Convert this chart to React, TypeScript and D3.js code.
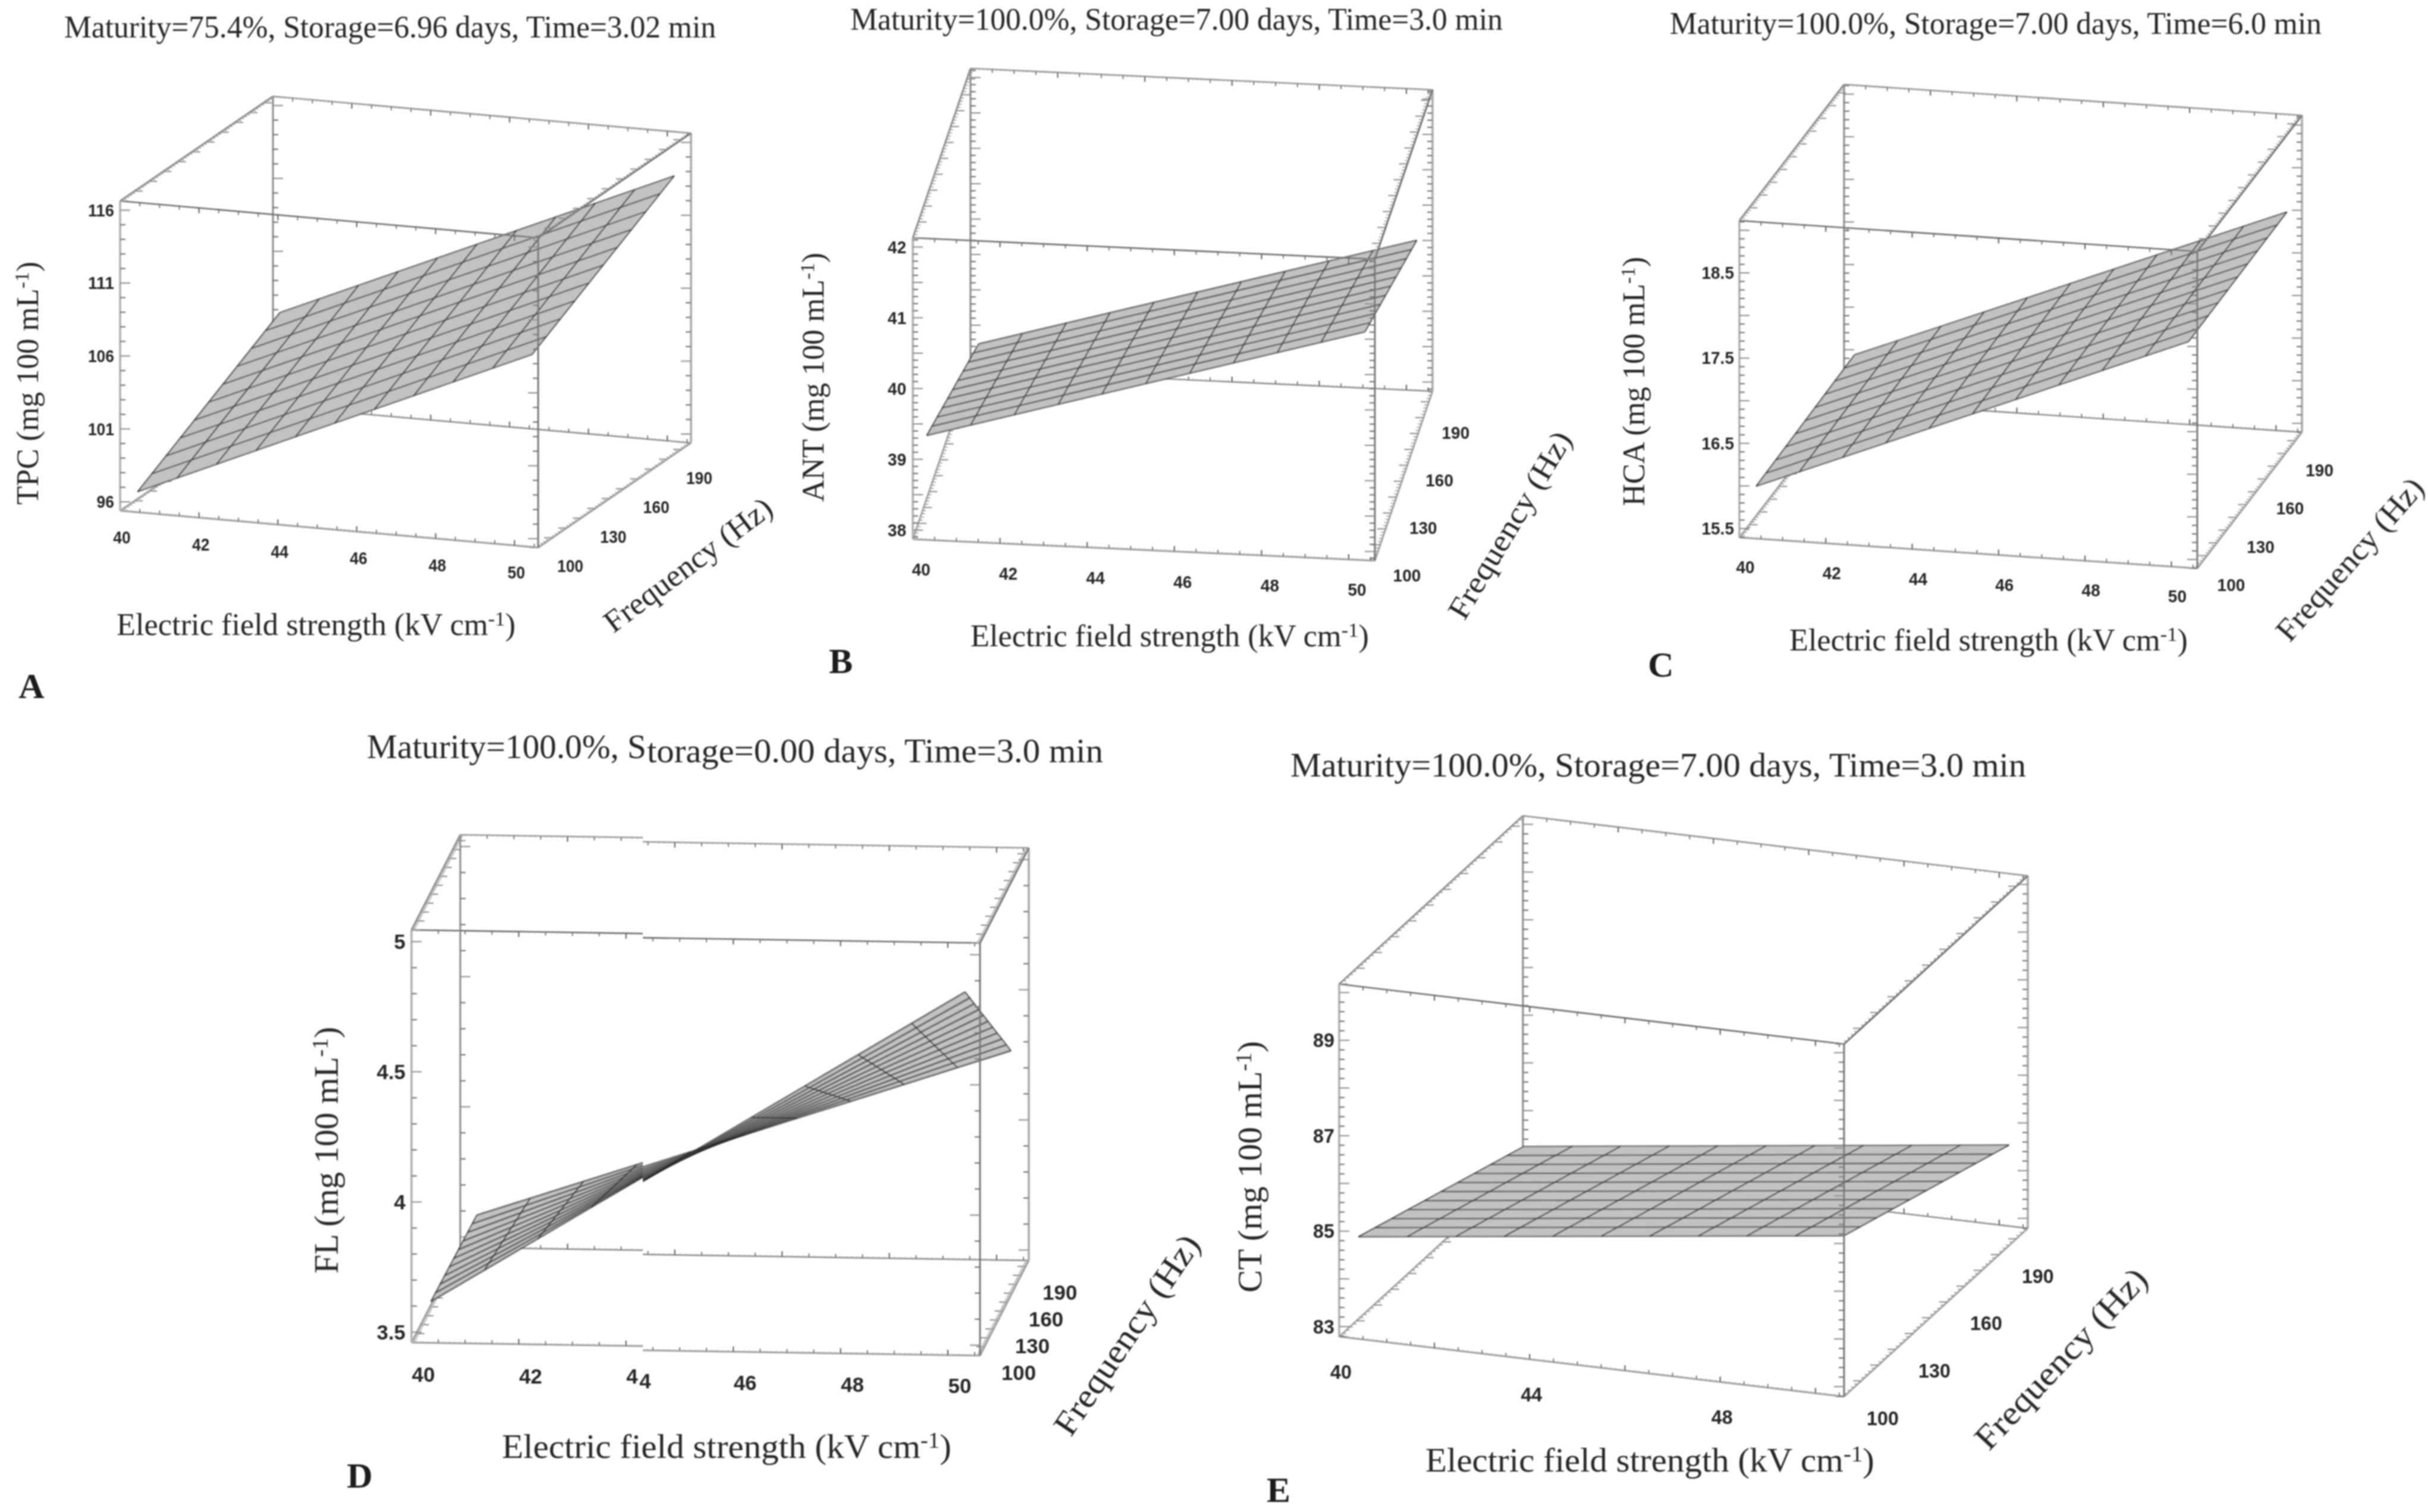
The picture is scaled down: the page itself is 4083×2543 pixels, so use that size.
import React from "react";
import * as d3 from "d3";

// ---------- values ----------
const electricTicks = [40, 42, 44, 46, 48, 50];
const electricTicksD = [40, 42, 46, 48, 50];
const electricTicksE = [40, 44, 48];
const frequencyTicks = [100, 130, 160, 190];

const tpcTicks = [96, 101, 106, 111, 116];
const antTicks = [38, 39, 40, 41, 42];
const hcaTicks = [15.5, 16.5, 17.5, 18.5];
const flTicks = [3.5, 4, 4.5, 5];
const ctTicks = [83, 85, 87, 89];

const tpcDomain = [95.39, 116.63];
const antDomain = [37.87, 42.13];
const hcaDomain = [15.395, 19.114];
const flDomain = [3.46, 5.045];
const ctDomain = [82.79, 90.18];

// surface extents [low, high] and heights [[lowF lowE, lowF highE], [highF lowE, highF highE]]
const tpcSurfaceE = [40.6, 50.6];
const tpcSurfaceF = [95.7, 194.9];
const tpcSurfaceZ = [[97.13, 108.92], [102.73, 114.49]];
const antSurfaceE = [40.36, 50.41];
const antSurfaceF = [96.8, 192.7];
const antSurfaceZ = [[39.42, 41.17], [38.56, 40.31]];
const hcaSurfaceE = [40.46, 50.47];
const hcaSurfaceF = [96.8, 197];
const hcaSurfaceZ = [[16.06, 18.1], [16.1, 18.12]];
const flSurfaceE = [40.39, 50.35];
const flSurfaceF = [96.8, 197];
const flSurfaceZ = [[3.63, 4.867], [3.618, 4.298]];
const ctSurfaceE = [40.52, 50.71];
const ctSurfaceF = [96.8, 192.7];
const ctSurfaceZ = [[85.05, 86.28], [83.77, 85.01]];

const electricDomain = [40, 50.6];
const frequencyDomain = [100, 206.6];
const meshCells = 10;

const titleA = "Maturity=75.4%, Storage=6.96 days, Time=3.02 min";
const titleB = "Maturity=100.0%, Storage=7.00 days, Time=3.0 min";
const titleC = "Maturity=100.0%, Storage=7.00 days, Time=6.0 min";
const titleD1 = "Maturity=100.0%, S";
const titleD2 = "torage=0.00 days, Time=3.0 min";
const titleE = "Maturity=100.0%, Storage=7.00 days, Time=3.0 min";

// ---------- layout ----------
type Pt = [number, number];
interface PanelDef {
  letter: string; letterPos: Pt;
  name: string;
  origin: Pt; xVec: Pt; fVec: Pt; height: number;
  zDomain: number[]; zTicks: number[]; zMinor: number; zMajor: number;
  xTicks: number[];
  sE: number[]; sF: number[]; sZ: number[][];
  xOff: Pt; fOff: Pt; zOff: number;
  digit: number; tickFont: number;
  titles: { t: string; x0: number; x1: number; y: number }[];
  xTitle: { x0: number; x1: number; y: number };
  yTitle: { x: number; y0: number; y1: number };
  fTitle: { cx: number; cy: number; angle: number; len: number };
  labelFont: number;
  meshW: number;
  jog?: { at: number; dy: number; labelDy: number };
  pieces?: { t: string; x: number; y: number }[];
}

const panels: PanelDef[] = [
  {
    letter: "A", letterPos: [53, 1174], name: "TPC",
    origin: [202, 859], xVec: [703, 62], fVec: [257, -176], height: 521,
    zDomain: tpcDomain, zTicks: tpcTicks, zMinor: 1, zMajor: 5, xTicks: electricTicks,
    sE: tpcSurfaceE, sF: tpcSurfaceF, sZ: tpcSurfaceZ,
    xOff: [3, 45], fOff: [54, 31], zOff: -10, digit: 14.7, tickFont: 29,
    titles: [{ t: titleA, x0: 108, x1: 1204, y: 63 }],
    xTitle: { x0: 196, x1: 867, y: 1068 },
    yTitle: { x: 64, y0: 440, y1: 849 },
    fTitle: { cx: 1157, cy: 950, angle: -37, len: 340 },
    labelFont: 52, meshW: 2.6,
  },
  {
    letter: "B", letterPos: [1414, 1132], name: "ANT",
    origin: [1535, 907], xVec: [777, 36], fVec: [97, -285], height: 507,
    zDomain: antDomain, zTicks: antTicks, zMinor: 0.1, zMajor: 0.5, xTicks: electricTicks,
    sE: antSurfaceE, sF: antSurfaceF, sZ: antSurfaceZ,
    xOff: [14, 51], fOff: [54, 25], zOff: -11, digit: 15.6, tickFont: 29,
    titles: [{ t: titleB, x0: 1430, x1: 2527, y: 50 }],
    xTitle: { x0: 1632, x1: 2302, y: 1087 },
    yTitle: { x: 1385, y0: 425, y1: 844 },
    fTitle: { cx: 2539, cy: 883, angle: -59.3, len: 357 },
    labelFont: 52, meshW: 2.8,
  },
  {
    letter: "C", letterPos: [2793, 1138], name: "HCA",
    origin: [2925, 904], xVec: [770, 52], fVec: [176, -229], height: 533,
    zDomain: hcaDomain, zTicks: hcaTicks, zMinor: 0.1, zMajor: 0.5, xTicks: electricTicks,
    sE: hcaSurfaceE, sF: hcaSurfaceF, sZ: hcaSurfaceZ,
    xOff: [10, 50], fOff: [57, 28], zOff: -9, digit: 15.6, tickFont: 29,
    titles: [{ t: titleC, x0: 2808, x1: 3904, y: 57 }],
    xTitle: { x0: 3009, x1: 3679, y: 1094 },
    yTitle: { x: 2765, y0: 432, y1: 851 },
    fTitle: { cx: 3952, cy: 941, angle: -48.6, len: 346 },
    labelFont: 52, meshW: 2.6,
  },
  {
    letter: "D", letterPos: [605, 2502], name: "FL",
    origin: [692, 2258], xVec: [956, 15], fVec: [82, -160], height: 694,
    zDomain: flDomain, zTicks: flTicks, zMinor: 0.1, zMajor: 0.5, xTicks: electricTicksD,
    sE: flSurfaceE, sF: flSurfaceF, sZ: flSurfaceZ,
    xOff: [20, 54], fOff: [65, 36], zOff: -10, digit: 19.4, tickFont: 35,
    titles: [
      { t: titleD1, x0: 617, x1: 1087, y: 1275 },
      { t: titleD2, x0: 1088, x1: 1855, y: 1282 },
    ],
    xTitle: { x0: 844, x1: 1600, y: 2452 },
    yTitle: { x: 568, y0: 1727, y1: 2142 },
    fTitle: { cx: 1895, cy: 2245, angle: -56, len: 393 },
    labelFont: 57, meshW: 3.2,
    jog: { at: 1081, dy: 7, labelDy: 5 },
    pieces: [
      { t: "4", x: 1063, y: 2315 },
      { t: "4", x: 1085, y: 2323 },
    ],
  },
  {
    letter: "E", letterPos: [2150, 2526], name: "CT",
    origin: [2252, 2248], xVec: [849, 101], fVec: [309, -283], height: 593,
    zDomain: ctDomain, zTicks: ctTicks, zMinor: 0.2, zMajor: 1, xTicks: electricTicksE,
    sE: ctSurfaceE, sF: ctSurfaceF, sZ: ctSurfaceZ,
    xOff: [3, 59], fOff: [65, 36], zOff: -8, digit: 18, tickFont: 33,
    titles: [{ t: titleE, x0: 2170, x1: 3407, y: 1306 }],
    xTitle: { x0: 2397, x1: 3152, y: 2475 },
    yTitle: { x: 2121, y0: 1751, y1: 2174 },
    fTitle: { cx: 3466, cy: 2285, angle: -46.8, len: 395 },
    labelFont: 57, meshW: 2.6,
  },
];

const serif = "'Liberation Serif', serif";
const sans = "'Liberation Sans', Arial, sans-serif";
const ink = "#262626";

function labelWidth(s: string, digit: number) {
  const dots = (s.match(/\./g) || []).length;
  return (s.length - dots + dots * 0.5) * digit;
}

function Marks({ p }: { p: PanelDef }) {
  const ex = d3.scaleLinear().domain(electricDomain).range([0, 1]);
  const fr = d3.scaleLinear().domain(frequencyDomain).range([0, 1]);
  const zs = d3.scaleLinear().domain(p.zDomain).range([0, p.height]);
  const proj = (x: number, f: number, z: number): Pt => {
    const a = ex(x), b = fr(f);
    return [
      p.origin[0] + a * p.xVec[0] + b * p.fVec[0],
      p.origin[1] + a * p.xVec[1] + b * p.fVec[1] - zs(z),
    ];
  };
  const line = d3.line<Pt>();
  const [x0, x1] = electricDomain;
  const [f0, f1] = frequencyDomain;
  const [z0, z1] = p.zDomain;

  const xMinor = d3.range(0, 107).map((k) => x0 + k * 0.1);
  const fMinor = d3.range(0, 54).map((k) => f0 + k * 2);
  const zBase = p.zTicks[0];
  const zMinor = d3
    .range(Math.ceil((z0 - zBase) / p.zMinor), Math.floor((z1 - zBase) / p.zMinor) + 1)
    .map((k) => zBase + k * p.zMinor);

  type Edge = { axis: "x" | "f" | "z"; x?: number; f?: number; z?: number; dir: Pt; color: string; w: number };
  const back: Edge[] = [
    { axis: "x", f: f1, z: z0, dir: [0, -1], color: "#8c8c8c", w: 2.4 },
    { axis: "x", f: f1, z: z1, dir: [0, 1], color: "#9a9a9a", w: 2.6 },
    { axis: "z", x: x0, f: f1, dir: [1, 0], color: "#8a8a8a", w: 3 },
    { axis: "z", x: x1, f: f1, dir: [-1, 0], color: "#b2b2b2", w: 4 },
    { axis: "f", x: x0, z: z0, dir: [1, 0], color: "#a2a2a2", w: 3 },
    { axis: "f", x: x1, z: z0, dir: [-1, 0], color: "#a2a2a2", w: 3 },
  ];
  const front: Edge[] = [
    { axis: "x", f: f0, z: z0, dir: [0, -1], color: "#a0a0a0", w: 3 },
    { axis: "x", f: f0, z: z1, dir: [0, 1], color: "#707070", w: 2.6 },
    { axis: "z", x: x0, f: f0, dir: [1, 0], color: "#b8b8b8", w: 4 },
    { axis: "z", x: x1, f: f0, dir: [-1, 0], color: "#787878", w: 3 },
    { axis: "f", x: x0, z: z1, dir: [1, 0], color: "#8e8e8e", w: 3 },
    { axis: "f", x: x1, z: z1, dir: [-1, 0], color: "#6e6e6e", w: 3 },
  ];

  const multipleOf = (v: number, base: number, step: number) => {
    const k = (v - base) / step;
    return Math.abs(k - Math.round(k)) < 1e-6;
  };

  const drawEdge = (e: Edge, key: string) => {
    const at = (v: number): Pt =>
      e.axis === "x" ? proj(v, e.f!, e.z!) : e.axis === "f" ? proj(e.x!, v, e.z!) : proj(e.x!, e.f!, v);
    const [a, b] = e.axis === "x" ? [x0, x1] : e.axis === "f" ? [f0, f1] : [z0, z1];
    const vals = e.axis === "x" ? xMinor : e.axis === "f" ? fMinor : zMinor;
    const tick = (v: number) => {
      if (e.axis === "x") {
        if (multipleOf(v, 40, 2)) return { l: 9, w: 2.2, c: "#666" };
        if (multipleOf(v, 40, 0.5)) return { l: 6, w: 2, c: "#777" };
        return { l: 2.5, w: 1.4, c: "#aaa" };
      }
      if (e.axis === "f") {
        if (multipleOf(v, 100, 10)) return { l: 14, w: 2, c: "#8c8c8c" };
        return { l: 6, w: 1.6, c: "#999" };
      }
      if (multipleOf(v, zBase, p.zMajor)) return { l: 17, w: 2, c: "#8c8c8c" };
      return { l: 9, w: 2.2, c: "#777" };
    };
    return (
      <g key={key}>
        <path d={line([at(a), at(b)]) || ""} stroke={e.color} strokeWidth={e.w} fill="none" />
        {vals.map((v, i) => {
          const s = at(v);
          const t = tick(v);
          return (
            <line key={i} x1={s[0]} y1={s[1]} x2={s[0] + e.dir[0] * t.l} y2={s[1] + e.dir[1] * t.l}
              stroke={t.c} strokeWidth={t.w} />
          );
        })}
      </g>
    );
  };

  const [e0, e1] = p.sE;
  const [s0, s1] = p.sF;
  const uScale = d3.scaleLinear().domain([0, meshCells]).range([e0, e1]);
  const vScale = d3.scaleLinear().domain([0, meshCells]).range([s0, s1]);
  const zAt = (x: number, f: number) => {
    const u = (x - e0) / (e1 - e0);
    const v = (f - s0) / (s1 - s0);
    const low = d3.interpolateNumber(p.sZ[0][0], p.sZ[0][1])(u);
    const high = d3.interpolateNumber(p.sZ[1][0], p.sZ[1][1])(u);
    return d3.interpolateNumber(low, high)(v);
  };
  const sp = (i: number, j: number) => {
    const x = uScale(i), f = vScale(j);
    return proj(x, f, zAt(x, f));
  };
  const cells = d3.range(meshCells).flatMap((i) => d3.range(meshCells).map((j) => [i, j]));
  const steps = d3.range(meshCells + 1);

  return (
    <g>
      {back.map((e, i) => drawEdge(e, "b" + i))}
      {cells.map(([i, j]) => (
        <path key={`${i}-${j}`} d={(line([sp(i, j), sp(i + 1, j), sp(i + 1, j + 1), sp(i, j + 1)]) || "") + "Z"}
          fill="#c2c2c2" stroke="#c2c2c2" strokeWidth={0.6} />
      ))}
      {steps.map((j) => (
        <path key={"r" + j} d={line([sp(0, j), sp(meshCells, j)]) || ""} stroke="#333" strokeOpacity={0.62} strokeWidth={p.meshW} fill="none" />
      ))}
      {steps.map((i) => (
        <path key={"c" + i} d={line([sp(i, 0), sp(i, meshCells)]) || ""} stroke="#2a2a2a" strokeOpacity={0.7} strokeWidth={2.4} fill="none" />
      ))}
      {front.map((e, i) => drawEdge(e, "f" + i))}
    </g>
  );
}

function Panel({ p }: { p: PanelDef }) {
  const ex = d3.scaleLinear().domain(electricDomain).range([0, 1]);
  const fr = d3.scaleLinear().domain(frequencyDomain).range([0, 1]);
  const zs = d3.scaleLinear().domain(p.zDomain).range([0, p.height]);
  const frontRight: Pt = [p.origin[0] + ex(50.6) * p.xVec[0], p.origin[1] + ex(50.6) * p.xVec[1]];
  const tickStyle = { fontFamily: sans, fontWeight: 700, fontSize: p.tickFont, fill: ink };
  const sup = p.labelFont * 0.66;
  const supDy = p.labelFont * 0.3;
  const yMid = (p.yTitle.y0 + p.yTitle.y1) / 2;
  const jogAfter = (v: number) => (p.jog && v > 44 ? p.jog.labelDy : 0);

  return (
    <g>
      {p.jog ? (
        <>
          <clipPath id="jogLeft"><rect x={0} y={0} width={p.jog.at} height={2543} /></clipPath>
          <clipPath id="jogRight"><rect x={p.jog.at} y={0} width={4083 - p.jog.at} height={2543} /></clipPath>
          <g clipPath="url(#jogLeft)"><Marks p={p} /></g>
          <g clipPath="url(#jogRight)"><g transform={`translate(0,${p.jog.dy})`}><Marks p={p} /></g></g>
        </>
      ) : (
        <Marks p={p} />
      )}

      {p.titles.map((t, i) => (
        <text key={i} x={t.x0} y={t.y} textLength={t.x1 - t.x0} lengthAdjust="spacingAndGlyphs"
          fontFamily={serif} fontSize={p.labelFont + 1} fill={ink}>{t.t}</text>
      ))}

      <text x={p.xTitle.x0} y={p.xTitle.y} textLength={p.xTitle.x1 - p.xTitle.x0} lengthAdjust="spacingAndGlyphs"
        fontFamily={serif} fontSize={p.labelFont} fill={ink}>
        Electric field strength (kV cm<tspan fontSize={sup} dy={-supDy}>-1</tspan><tspan dy={supDy}>)</tspan>
      </text>

      <text transform={`translate(${p.yTitle.x},${yMid}) rotate(-90)`} textAnchor="middle"
        textLength={p.yTitle.y1 - p.yTitle.y0} lengthAdjust="spacingAndGlyphs"
        fontFamily={serif} fontSize={p.labelFont} fill={ink}>
        {p.name} (mg 100 mL<tspan fontSize={sup} dy={-supDy}>-1</tspan><tspan dy={supDy}>)</tspan>
      </text>

      <text transform={`translate(${p.fTitle.cx},${p.fTitle.cy}) rotate(${p.fTitle.angle})`} textAnchor="middle" dy="0.33em"
        textLength={p.fTitle.len} lengthAdjust="spacingAndGlyphs"
        fontFamily={serif} fontSize={p.labelFont} fill={ink}>Frequency (Hz)</text>

      {p.xTicks.map((v) => {
        const s = String(v);
        return (
          <text key={"x" + v} x={p.origin[0] + ex(v) * p.xVec[0] + p.xOff[0]}
            y={p.origin[1] + ex(v) * p.xVec[1] + p.xOff[1] + jogAfter(v)}
            dy="0.35em" textAnchor="middle" textLength={labelWidth(s, p.digit)} lengthAdjust="spacingAndGlyphs" {...tickStyle}>{s}</text>
        );
      })}
      {p.pieces && p.pieces.map((q, i) => (
        <text key={"piece" + i} x={q.x} y={q.y} dy="0.35em" textAnchor="middle" {...tickStyle}
          textLength={p.digit} lengthAdjust="spacingAndGlyphs">{q.t}</text>
      ))}
      {frequencyTicks.map((v) => {
        const s = String(v);
        return (
          <text key={"f" + v} x={frontRight[0] + fr(v) * p.fVec[0] + p.fOff[0]} y={frontRight[1] + fr(v) * p.fVec[1] + p.fOff[1]}
            dy="0.35em" textAnchor="middle" textLength={labelWidth(s, p.digit)} lengthAdjust="spacingAndGlyphs" {...tickStyle}>{s}</text>
        );
      })}
      {p.zTicks.map((v) => {
        const s = String(v);
        return (
          <text key={"z" + v} x={p.origin[0] + p.zOff} y={p.origin[1] - zs(v)}
            dy="0.35em" textAnchor="end" textLength={labelWidth(s, p.digit)} lengthAdjust="spacingAndGlyphs" {...tickStyle}>{s}</text>
        );
      })}

      <text x={p.letterPos[0]} y={p.letterPos[1]} textAnchor="middle" fontFamily={serif} fontWeight={700}
        fontSize={60} fill="#1a1a1a">{p.letter}</text>
    </g>
  );
}

export default function App() {
  return (
    <svg width={4083} height={2543} viewBox="0 0 4083 2543"
      style={{ position: "absolute", left: 0, top: 0, display: "block", background: "#fff" }}>
      <defs>
        <filter id="soft" filterUnits="userSpaceOnUse" x={0} y={0} width={4083} height={2543}>
          <feGaussianBlur stdDeviation={1.1} />
        </filter>
      </defs>
      <rect width={4083} height={2543} fill="#fff" />
      <g filter="url(#soft)">
        {panels.map((p) => <Panel key={p.letter} p={p} />)}
      </g>
    </svg>
  );
}
